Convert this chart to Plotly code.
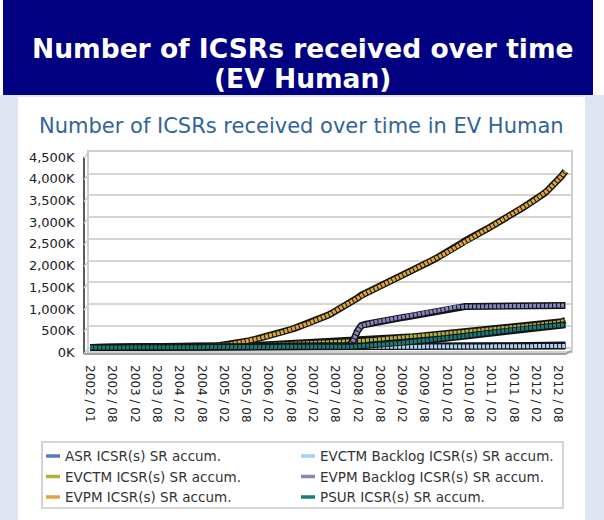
import plotly.graph_objects as go

W, H = 604, 520

# monthly categories (2002/02 has no entry in the source chart)
months = ["2002 / 01"] + [
    f"{y} / {m:02d}" for y in range(2002, 2013) for m in range(1, 13)
    if (2002, 3) <= (y, m) <= (2012, 10)
]

tick_labels = ["2002 / 01", "2002 / 08", "2003 / 02", "2003 / 08", "2004 / 02", "2004 / 08",
               "2005 / 02", "2005 / 08", "2006 / 02", "2006 / 08", "2007 / 02", "2007 / 08",
               "2008 / 02", "2008 / 08", "2009 / 02", "2009 / 08", "2010 / 02", "2010 / 08",
               "2011 / 02", "2011 / 08", "2012 / 02", "2012 / 08"]
y_ticks = [0, 500, 1000, 1500, 2000, 2500, 3000, 3500, 4000, 4500]
y_tick_text = ["0K", "500K", "1,000K", "1,500K", "2,000K", "2,500K", "3,000K", "3,500K", "4,000K", "4,500K"]

# accumulated ICSRs, thousands (rows = years 2002..2012)
asr = [0, 0, 0, 0, 0, 0, 0, 0, 0, 0, 0,
       0, 0, 0, 0, 0, 0, 0, 0, 0, 0, 0, 0,
       0, 0, 0, 0, 0, 0, 0, 0, 0, 0, 0, 0,
       0, 0, 0, 0, 0, 0, 0, 0, 0, 0, 0, 0,
       0, 0, 0, 0, 0, 0, 0, 0, 0, 0, 0, 0,
       0, 0, 0, 0, 0, 0, 0, 0, 0, 0, 0, 0,
       0, 1, 2, 3, 4, 5, 6, 7, 8, 9, 10, 11,
       12, 13, 14, 15, 16, 17, 18, 19, 20, 21, 22, 23,
       24, 25, 26, 27, 28, 29, 30, 31, 32, 33, 34, 35,
       36, 37, 38, 39, 40, 41, 42, 43, 44, 45, 46, 47,
       48, 49, 50, 51, 52, 53, 54, 55, 56, 57]

evctm_backlog = [0, 0, 0, 0, 0, 0, 0, 0, 0, 0, 0,
                 0, 0, 0, 0, 0, 0, 0, 0, 0, 0, 0, 0,
                 0, 0, 0, 0, 0, 0, 0, 0, 0, 0, 0, 0,
                 0, 0, 0, 0, 0, 0, 0, 0, 0, 0, 0, 0,
                 0, 0, 0, 0, 0, 0, 0, 0, 0, 0, 0, 0,
                 0, 0, 0, 0, 0, 0, 0, 0, 0, 0, 0, 0,
                 0, 0, 0, 0, 0, 0, 0, 0, 0, 0, 5, 6,
                 7, 8, 9, 10, 11, 12, 13, 14, 15, 16, 17, 18,
                 19, 20, 20, 21, 21, 22, 22, 23, 23, 24, 24, 25,
                 25, 26, 26, 27, 27, 28, 28, 29, 29, 30, 30, 31,
                 31, 32, 32, 33, 33, 34, 34, 35, 35, 36]

evctm = [0, 0, 0, 0, 0, 0, 0, 0, 0, 0, 0,
         0, 0, 0, 0, 0, 0, 0, 0, 0, 0, 0, 0,
         1, 2, 3, 4, 5, 6, 7, 8, 9, 10, 12, 14,
         16, 19, 22, 25, 28, 31, 34, 37, 40, 44, 48, 52,
         56, 60, 64, 68, 72, 76, 80, 84, 88, 92, 96, 100,
         104, 107, 110, 113, 116, 119, 122, 125, 128, 131, 134, 138,
         142, 147, 152, 158, 164, 170, 176, 182, 188, 194, 200, 207,
         214, 222, 230, 238, 246, 254, 262, 270, 279, 288, 297, 306,
         315, 323, 331, 339, 347, 355, 363, 371, 379, 387, 395, 403,
         411, 419, 427, 435, 443, 451, 459, 467, 475, 483, 491, 499,
         507, 515, 523, 531, 540, 550, 562, 576, 594, 620]

evpm_backlog = [0, 0, 0, 0, 0, 0, 0, 0, 0, 0, 0,
                0, 0, 0, 0, 0, 0, 0, 0, 0, 0, 0, 0,
                0, 0, 0, 0, 0, 0, 0, 0, 0, 0, 0, 0,
                0, 0, 0, 5, 6, 7, 8, 9, 10, 11, 12, 13,
                14, 15, 16, 17, 18, 19, 20, 21, 22, 23, 24, 25,
                26, 27, 28, 29, 30, 31, 32, 33, 34, 36, 40, 60,
                180, 380, 500, 530, 550, 570, 590, 605, 620, 635, 650, 665,
                675, 688, 700, 715, 730, 745, 760, 775, 790, 810, 830, 850,
                870, 890, 910, 930, 938, 940, 941, 942, 943, 944, 944, 945,
                945, 946, 946, 947, 947, 948, 948, 949, 949, 950, 950, 951,
                951, 952, 952, 953, 954, 955, 956, 958, 962, 968]

evpm = [0, 0, 1, 1, 1, 2, 2, 2, 3, 3, 3,
        4, 4, 4, 5, 5, 6, 6, 7, 7, 8, 8, 9,
        10, 11, 12, 14, 16, 18, 20, 23, 26, 30, 34, 40,
        45, 55, 65, 78, 92, 106, 122, 140, 158, 178, 198, 220,
        240, 262, 285, 310, 335, 360, 388, 414, 440, 470, 500, 530,
        560, 600, 630, 665, 700, 740, 785, 830, 880, 930, 980, 1035,
        1085, 1140, 1200, 1240, 1280, 1320, 1365, 1410, 1450, 1495, 1540, 1580,
        1615, 1655, 1700, 1740, 1785, 1830, 1870, 1915, 1960, 2000, 2045, 2090,
        2135, 2185, 2235, 2290, 2345, 2400, 2455, 2510, 2560, 2600, 2645, 2690,
        2735, 2780, 2830, 2880, 2930, 2980, 3030, 3085, 3140, 3190, 3240, 3290,
        3350, 3410, 3470, 3530, 3600, 3680, 3760, 3850, 3950, 4060]

psur = [0, 0, 0, 0, 0, 0, 0, 0, 0, 0, 0,
        0, 0, 0, 0, 0, 0, 0, 0, 0, 0, 0, 0,
        0, 0, 0, 0, 0, 0, 0, 0, 0, 0, 0, 0,
        0, 0, 0, 0, 0, 0, 0, 0, 0, 0, 0, 0,
        0, 0, 0, 0, 0, 0, 0, 0, 0, 0, 0, 0,
        0, 0, 0, 0, 0, 0, 0, 0, 0, 5, 10, 15,
        20, 25, 30, 40, 55, 60, 65, 70, 75, 80, 85, 90,
        100, 108, 116, 124, 132, 140, 148, 157, 166, 175, 184, 193,
        202, 212, 222, 232, 244, 256, 268, 280, 292, 304, 316, 328,
        338, 348, 358, 368, 378, 388, 398, 408, 418, 428, 436, 444,
        452, 460, 468, 476, 484, 492, 500, 508, 516, 525]

# (name, values, colour, legend column)
series = [
    ("ASR ICSR(s) SR accum.", asr, "#4F7FB5", "legend"),
    ("EVCTM Backlog ICSR(s) SR accum.", evctm_backlog, "#A9D1F7", "legend2"),
    ("EVCTM ICSR(s) SR accum.", evctm, "#B3B040", "legend"),
    ("EVPM Backlog ICSR(s) SR accum.", evpm_backlog, "#8484C2", "legend2"),
    ("EVPM ICSR(s) SR accum.", evpm, "#DEA53A", "legend"),
    ("PSUR ICSR(s) SR accum.", psur, "#177B77", "legend2"),
]

FONT = "DejaVu Sans, Verdana, sans-serif"

fig = go.Figure()

# ribbon look: dark outline + segmented coloured stripe
for name, vals, col, lg in series:
    fig.add_trace(go.Scatter(x=months, y=vals, mode="lines", showlegend=False,
                             line=dict(color="#141414", width=7), hoverinfo="skip"))
    fig.add_trace(go.Scatter(x=months, y=vals, mode="lines", showlegend=False, name=name,
                             line=dict(color=col, width=4, dash="3px,1px")))

# legend entries (two columns = two legends)
for name, vals, col, lg in series:
    fig.add_trace(go.Scatter(x=[None], y=[None], mode="lines", legend=lg,
                             name=f'<span style="font-size:13.5px">{name}</span>',
                             line=dict(color=col, width=3.5, dash="0px,16px,14px")))


def px(x):
    return x / W


def py(y):
    return (H - y) / H


def box(x0, y0, x1, y1, **kw):
    return dict(xref="paper", yref="paper", x0=px(x0), x1=px(x1), y0=py(y1), y1=py(y0), **kw)


Y0, Y4500 = 347.5, 152.0
k = (Y0 - Y4500) / 4500
y_bottom = Y0 + 80 * k

shapes = [
    box(0, 0, W, H, type="rect", fillcolor="#E1E5F2", line_width=0, layer="below"),
    box(0, 0, 3, 95, type="rect", fillcolor="white", line_width=0, layer="below"),
    box(593, 0, W, 95, type="rect", fillcolor="white", line_width=0, layer="below"),
    box(3, 0, 593, 95, type="rect", fillcolor="#000080", line_width=0, layer="below"),
    box(18, 97, 585, H, type="rect", fillcolor="white", line_width=0, layer="below"),
    # legend frame
    box(42, 442, 563, 508, type="rect", fillcolor="white",
        line=dict(color="#C8C8C8", width=1.5), layer="below"),
    # front y axis and floor
    box(84, 157, 84, 354, type="line", line=dict(color="#5A5A5A", width=2)),
    box(84, 354, 566, 354, type="line", line=dict(color="#A0A0A0", width=2)),
    dict(type="line", xref="paper", yref="paper", x0=px(566), x1=px(571), y0=py(354), y1=py(y_bottom),
         line=dict(color="#A0A0A0", width=2)),
]
for v in y_ticks:
    yp = Y0 - v * k
    shapes.append(dict(type="line", xref="paper", yref="paper", x0=px(84), x1=px(89),
                       y0=py(yp + 6), y1=py(yp), line=dict(color="#CCCCCC", width=1.5)))

annotations = [
    dict(text="<b>Number of ICSRs received over time</b>", x=0.5, y=py(48)),
    dict(text="<b>(EV Human)</b>", x=0.5, y=py(78)),
]
for a in annotations:
    a.update(xref="paper", yref="paper", xanchor="center", yanchor="middle", showarrow=False,
             font=dict(family="DejaVu Sans", size=26.5, color="white"))
annotations.append(dict(text="Number of ICSRs received over time in EV Human", x=px(301), y=py(126),
                        xref="paper", yref="paper", xanchor="center", yanchor="middle", showarrow=False,
                        font=dict(family=FONT, size=21, color="#31649A")))

legend_common = dict(orientation="v", y=py(440.7), xanchor="left", yanchor="top",
                     bgcolor="rgba(0,0,0,0)", borderwidth=0,
                     font=dict(family=FONT, size=13.5, color="#333333"))

fig.update_layout(
    width=W, height=H,
    margin=dict(l=0, r=0, t=0, b=0, pad=0, autoexpand=False),
    paper_bgcolor="white", plot_bgcolor="white",
    font=dict(family=FONT, size=12, color="#222222"),
    shapes=shapes, annotations=annotations,
    showlegend=True,
    legend=dict(x=px(25), **legend_common),
    legend2=dict(x=px(280), **legend_common),
    xaxis=dict(domain=[px(89), px(571)], range=[-0.3, 129.5], type="category", automargin=False,
               tickmode="array", tickvals=tick_labels, ticktext=tick_labels, tickangle=90,
               tickfont=dict(size=12),
               showgrid=False, zeroline=False, showline=True, linecolor="#D0D0D0", linewidth=1.5,
               mirror=True, ticks="", ticklabelstandoff=10),
    yaxis=dict(domain=[py(y_bottom), py(Y4500)], range=[-80, 4500], automargin=False,
               tickmode="array", tickvals=y_ticks, ticktext=y_tick_text, tickfont=dict(size=13),
               gridcolor="#D5D5D5", gridwidth=1.5, zeroline=False,
               showline=True, linecolor="#D0D0D0", linewidth=1.5, mirror=True,
               ticks="", ticklabelstandoff=10, ticklabelshift=5),
)

fig.write_html(
    "out.html", config={"displayModeBar": False},
    post_script=("document.documentElement.style.margin='0';document.body.style.margin='0';"
                 "document.body.style.padding='0';"
                 "var d=document.getElementById('{plot_id}');"
                 "d.style.position='absolute';d.style.left='0px';d.style.top='0px';"),
)
